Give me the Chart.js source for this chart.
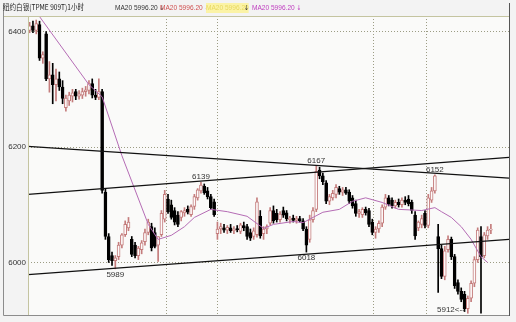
<!DOCTYPE html>
<html>
<head>
<meta charset="utf-8">
<script src="https://cdn.jsdelivr.net/npm/chart.js@4.4.1/dist/chart.umd.min.js"></script>
<style>
  html, body { margin: 0; padding: 0; background: #f3f3f3; }
  #wrap { position: relative; width: 516px; height: 322px; overflow: hidden; }
  canvas { position: absolute; left: 0; top: 0; }
  .hd { position: absolute; top: 3px; font-size: 8px; line-height: 10px; white-space: nowrap;
        font-family: "Liberation Sans Narrow", "Liberation Sans", "DejaVu Sans", sans-serif;
        transform: scaleX(0.82); transform-origin: left; }
  .ar { font-family: "DejaVu Sans", sans-serif; font-size: 7px; }
</style>
</head>
<body>
<div id="wrap">
  <canvas id="c" width="516" height="322"></canvas>
  <span class="hd" style="left:3px;top:2px;color:#222;font-family:'Noto Sans CJK SC',sans-serif;">纽约白银(TPME 909T)1小时</span>
  <span class="hd" style="left:115px;color:#333;">MA20 5996.20 <span class="ar">↓</span></span>
  <span class="hd" style="left:160px;color:#d05050;">MA20 5996.20 <span class="ar">↓</span></span>
  <span class="hd" style="left:206px;color:#e8d860;background:#fbf3a6;">MA20 5996.20</span>
  <span class="hd" style="left:244px;color:#333;"><span class="ar">↓</span></span>
  <span class="hd" style="left:252px;color:#c040c0;">MA20 5996.20 <span class="ar">↓</span></span>
</div>
<script>
// hourly candles
const opens  = [6402,6410,6402,6412,6354,6396,6318,6325,6308,6318,6304,6268,6280,6288,6296,6288,6290,6296,6298,6310,
                6290,6286,6296,6122,6045,6012,6003,6010,6030,6048,6060,6040,6030,6012,6022,6036,6052,6062,6052,6030,
                6048,6075,6110,6100,6090,6082,6078,6086,6092,6083,6097,6112,6124,6132,6124,6114,6105,6050,6058,6060,
                6056,6060,6055,6058,6054,6064,6062,6052,6045,6048,6080,6050,6058,6068,6090,6085,6074,6090,6086,6074,
                6077,6073,6076,6072,6058,6040,6074,6092,6160,6150,6138,6106,6112,6118,6128,6122,6126,6122,6112,6102,
                6085,6083,6092,6090,6070,6052,6058,6068,6096,6112,6108,6098,6104,6100,6108,6110,6104,6082,6060,6066,
                6085,6064,6108,6124,6045,6024,5976,6022,6040,6010,5965,5950,5945,5920,5938,5964,6005,6045,6012,6046,6056];
const highs  = [6416,6418,6420,6418,6365,6400,6348,6345,6335,6330,6315,6290,6295,6300,6300,6298,6302,6305,6315,6318,
                6300,6318,6300,6128,6050,6018,6012,6035,6050,6072,6078,6045,6035,6028,6038,6058,6075,6068,6060,6045,
                6090,6125,6118,6108,6095,6088,6090,6095,6098,6100,6118,6128,6139,6136,6130,6118,6110,6070,6068,6066,
                6064,6066,6062,6064,6068,6070,6066,6058,6060,6112,6090,6062,6065,6095,6098,6092,6088,6096,6090,6080,
                6082,6080,6080,6076,6062,6082,6095,6167,6165,6155,6142,6118,6125,6135,6132,6130,6130,6126,6116,6108,
                6092,6095,6096,6094,6075,6062,6072,6100,6118,6116,6112,6108,6110,6112,6114,6116,6108,6088,6072,6082,
                6090,6118,6130,6152,6066,6030,6028,6046,6044,6014,5970,5956,5950,5942,5968,6010,6060,6062,6052,6062,6066];
const lows   = [6398,6398,6396,6350,6345,6315,6295,6275,6280,6298,6275,6262,6272,6278,6282,6283,6284,6288,6292,6285,
                6282,6282,6120,6040,6000,5995,5989,6005,6025,6045,6055,6010,6008,6005,6015,6030,6048,6020,6025,6002,
                6045,6070,6085,6075,6065,6062,6072,6080,6084,6080,6092,6108,6120,6118,6110,6092,6080,6040,6050,6052,
                6050,6052,6050,6053,6050,6055,6040,6038,6040,6044,6042,6040,6050,6065,6068,6070,6070,6078,6072,6068,
                6070,6068,6070,6055,6018,6035,6070,6088,6145,6135,6102,6100,6108,6112,6118,6116,6118,6102,6094,6080,
                6078,6078,6082,6062,6048,6042,6052,6062,6092,6098,6094,6094,6096,6096,6100,6098,6085,6040,6055,6060,
                6060,6060,6104,6120,5948,5972,5970,6018,6005,5955,5945,5932,5915,5912,5932,5958,6000,5912,6008,6040,6050];
const closes = [6410,6402,6414,6354,6360,6318,6325,6308,6318,6304,6284,6285,6290,6294,6288,6292,6296,6299,6310,6290,
                6286,6296,6125,6045,6005,6003,6008,6030,6048,6066,6070,6014,6012,6025,6034,6052,6070,6025,6028,6045,
                6085,6118,6088,6078,6070,6066,6088,6090,6087,6097,6114,6126,6134,6121,6114,6095,6083,6058,6062,6056,
                6061,6055,6058,6057,6065,6060,6045,6042,6055,6105,6046,6058,6062,6090,6072,6074,6084,6082,6076,6077,
                6073,6076,6072,6058,6030,6074,6090,6158,6150,6140,6106,6114,6120,6130,6122,6126,6120,6106,6098,6085,
                6088,6092,6086,6066,6052,6058,6068,6096,6112,6102,6098,6104,6100,6108,6104,6102,6090,6046,6070,6076,
                6064,6112,6124,6150,6024,5976,6020,6040,6010,5960,5950,5936,5920,5938,5964,6005,6056,6010,6048,6056,6058];

// MA20 line, read at these candle positions
const maIdx = [3, 18, 22, 28, 36, 39, 43, 47, 50, 55, 60, 66, 71, 74, 80, 83, 86, 89, 94, 98,
               102, 107, 112, 119, 123, 125, 128, 131, 134, 137, 139];
const maVal = [6426, 6308, 6287, 6185, 6066, 6040, 6047, 6062, 6078, 6092, 6088, 6080, 6059, 6066, 6071, 6069, 6078, 6087, 6092, 6106,
               6112, 6104, 6092, 6090, 6095, 6088, 6078, 6062, 6040, 6010, 6000];

// hand-drawn trend lines: value at left edge, value at right edge
const trendLeft  = [6201, 6118, 5979];
const trendRight = [6146, 6182, 6040];

const yTicks = [6000, 6200, 6400];
const dayBreaks = [41.5, 57, 104.5, 120.5];

const markIdx  = [26, 52, 84, 87, 123, 133];
const markText = ["5989", "6139", "6018", "6167", "6152", "5912<--"];
const markSide = ["low", "high", "low", "high", "high", "left"];

const xMin = -0.5, xMax = 145.5;
const upColor = "#c47c7c", downColor = "#000";
const narrow = '"Liberation Sans Narrow", "Liberation Sans", sans-serif';

const isUp = closes.map((c, i) => c >= opens[i]);
const bodies = opens.map((o, i) => ({ x: i, y: [Math.min(o, closes[i]), Math.max(o, closes[i])] }));
const wicks = opens.map((o, i) => ({ x: i, y: [lows[i], highs[i]] }));

const trendSets = trendLeft.map((v, k) => ({
  type: "line",
  data: [{ x: xMin, y: v }, { x: xMax, y: trendRight[k] }],
  borderColor: "#111",
  borderWidth: 1.3,
  pointRadius: 0,
  order: 0,
}));

const frame = {
  id: "frame",
  beforeDraw(chart) {
    const { ctx, chartArea: a } = chart;
    ctx.save();
    ctx.fillStyle = "#fafaf9";
    ctx.fillRect(a.left, a.top, a.right - a.left, a.bottom - a.top);
    ctx.restore();
  },
  afterDraw(chart) {
    const { ctx, chartArea: a } = chart;
    const xs = chart.scales.x, ys = chart.scales.y;
    ctx.save();
    ctx.lineWidth = 1;
    ctx.strokeStyle = "#c4c4a0";
    ctx.beginPath();
    ctx.moveTo(3, a.top + 0.5); ctx.lineTo(a.right, a.top + 0.5);
    ctx.moveTo(a.left + 0.5, a.top); ctx.lineTo(a.left + 0.5, a.bottom);
    ctx.stroke();
    ctx.strokeStyle = "#8c8c8c";
    ctx.beginPath();
    ctx.moveTo(3.5, 3); ctx.lineTo(3.5, a.bottom + 0.5); ctx.lineTo(a.right, a.bottom + 0.5);
    ctx.stroke();
    ctx.strokeStyle = "#555";
    ctx.beginPath();
    ctx.moveTo(a.right + 0.5, 3); ctx.lineTo(a.right + 0.5, a.bottom + 1);
    ctx.stroke();

    ctx.font = "8px " + narrow;
    ctx.fillStyle = "#333";
    markIdx.forEach((i, k) => {
      const x = xs.getPixelForValue(i);
      if (markSide[k] === "high") {
        ctx.textAlign = "center"; ctx.textBaseline = "bottom";
        ctx.fillText(markText[k], x, ys.getPixelForValue(highs[i]) - 1);
      } else if (markSide[k] === "low") {
        ctx.textAlign = "center"; ctx.textBaseline = "top";
        ctx.fillText(markText[k], x, ys.getPixelForValue(lows[i]) + 2);
      } else {
        ctx.textAlign = "right"; ctx.textBaseline = "middle";
        ctx.fillText(markText[k], x - 3, ys.getPixelForValue(lows[i]) - 3);
      }
    });
    ctx.restore();
  },
};

new Chart(document.getElementById("c"), {
  type: "bar",
  data: {
    datasets: [
      ...trendSets,
      {
        type: "line",
        data: maIdx.map((x, k) => ({ x, y: maVal[k] })),
        borderColor: "#b56cb5",
        borderWidth: 1,
        pointRadius: 0,
        order: 1,
      },
      {
        data: bodies,
        backgroundColor: isUp.map(u => (u ? "#fdfbfb" : downColor)),
        borderColor: isUp.map(u => (u ? upColor : downColor)),
        borderWidth: 1,
        borderSkipped: false,
        barThickness: 3,
        minBarLength: 1,
        grouped: false,
        order: 2,
      },
      {
        data: wicks,
        backgroundColor: isUp.map(u => (u ? upColor : downColor)),
        borderWidth: 0,
        barThickness: 1,
        grouped: false,
        order: 3,
      },
    ],
  },
  options: {
    responsive: false,
    animation: false,
    devicePixelRatio: 1,
    layout: { padding: { left: 3, top: 16, right: 7, bottom: 7 } },
    plugins: { legend: { display: false }, tooltip: { enabled: false } },
    scales: {
      x: {
        type: "linear",
        min: xMin,
        max: xMax,
        offset: false,
        grid: { offset: false, color: "#9c9c84", drawTicks: false },
        border: { display: false, dash: [1, 2] },
        ticks: { display: false },
        afterBuildTicks: s => { s.ticks = dayBreaks.map(v => ({ value: v })); },
        afterFit: s => { s.height = 0; },
      },
      y: {
        min: 5909,
        max: 6427,
        grid: { color: "#9c9c84", drawTicks: false },
        border: { display: false, dash: [1, 2] },
        ticks: { color: "#333", padding: 2, font: { size: 8, family: narrow }, callback: v => String(v) },
        afterBuildTicks: s => { s.ticks = yTicks.map(v => ({ value: v })); },
        afterFit: s => { s.width = 25; },
      },
    },
  },
  plugins: [frame],
});
</script>
</body>
</html>
